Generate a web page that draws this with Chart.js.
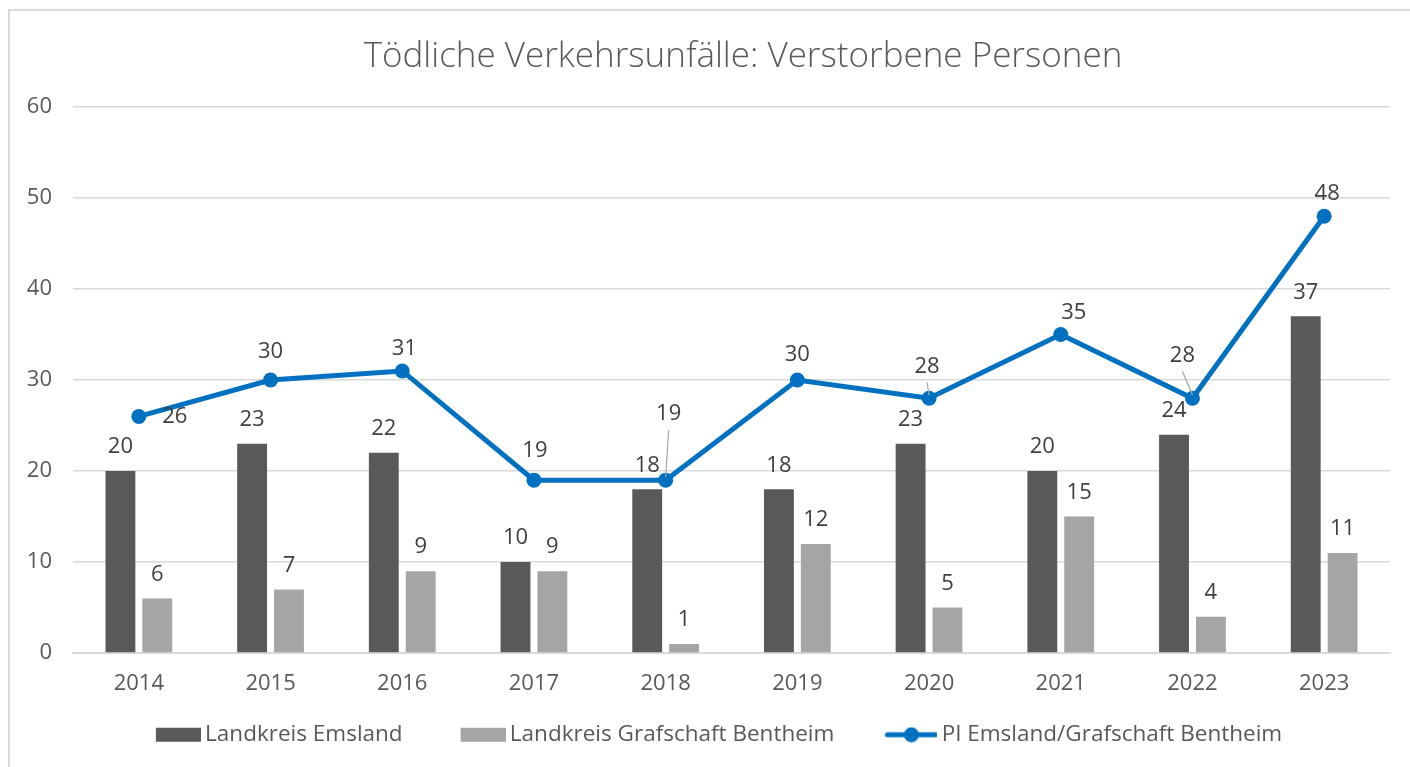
<!DOCTYPE html>
<html>
<head>
<meta charset="utf-8">
<script src="https://cdn.jsdelivr.net/npm/chart.js@4.4.1/dist/chart.umd.min.js"></script>
<style>
    html, body { margin: 0; padding: 0; background: #fff; overflow: hidden; }
    #frame {
        position: absolute; left: 8px; top: 9px; width: 1420px; height: 780px;
        border-top: 2px solid #d9d9d9; border-left: 2px solid #d9d9d9;
    }
    #wrap { position: absolute; left: 0; top: 0; width: 1410px; height: 767px; }
</style>
</head>
<body>
<div id="frame"></div>
<div id="wrap"><canvas id="chart" width="1410" height="767"></canvas></div>
<script>
const years = ['2014', '2015', '2016', '2017', '2018', '2019', '2020', '2021', '2022', '2023'];
const emsland = [20, 23, 22, 10, 18, 18, 23, 20, 24, 37];
const bentheim = [6, 7, 9, 9, 1, 12, 5, 15, 4, 11];
const piTotal = [26, 30, 31, 19, 19, 30, 28, 35, 28, 48];
const yTicks = [0, 10, 20, 30, 40, 50, 60];
const titleText = 'Tödliche Verkehrsunfälle: Verstorbene Personen';

const fontFamily = "'Open Sans', 'Noto Sans', sans-serif";
const textColor = '#595959';
const labelColor = '#404040';

// label placement for the line series: [dx, dy, leader line]
const lineLabelPos = [
    [36, 0, false], [0, -28, false], [2, -22, false], [1, -29, false], [3, -66, true],
    [0, -25, false], [-2, -32, true], [13, -22, false], [-10, -43, true], [3, -22, false]
];

// legend icons: blank space on the left acts as the gap between items
function legendIcon(kind, color) {
    const c = document.createElement('canvas');
    c.width = 100; c.height = 16;
    const g = c.getContext('2d');
    g.fillStyle = color;
    g.strokeStyle = color;
    if (kind === 'bar') {
        g.fillRect(100 - 45, 1, 45, 14);
    } else {
        g.lineWidth = 5;
        g.lineCap = 'round';
        g.beginPath(); g.moveTo(100 - 50, 8); g.lineTo(98, 8); g.stroke();
        g.beginPath(); g.arc(100 - 26, 8, 7.5, 0, Math.PI * 2); g.fill();
    }
    return c;
}

const valueLabels = {
    id: 'valueLabels',
    afterDatasetsDraw(chart) {
        const ctx = chart.ctx;
        ctx.save();
        ctx.font = `22px ${fontFamily}`;
        ctx.fillStyle = labelColor;
        ctx.textAlign = 'center';
        ctx.textBaseline = 'middle';
        chart.data.datasets.forEach((ds, di) => {
            const meta = chart.getDatasetMeta(di);
            meta.data.forEach((el, i) => {
                const v = ds.data[i];
                if (ds.type === 'line') {
                    const [dx, dy, leader] = lineLabelPos[i];
                    const lx = el.x + dx, ly = el.y + dy;
                    if (leader) {
                        ctx.save();
                        ctx.strokeStyle = '#a6a6a6';
                        ctx.lineWidth = 1.2;
                        ctx.beginPath();
                        ctx.moveTo(lx, ly + 16);
                        ctx.lineTo(el.x, el.y - 3);
                        ctx.stroke();
                        ctx.restore();
                    }
                    ctx.fillText(String(v), lx, ly);
                } else {
                    ctx.fillText(String(v), el.x, el.y - 24);
                }
            });
        });
        ctx.restore();
    },
    afterDraw(chart) {
        const ctx = chart.ctx;
        ctx.save();
        ctx.font = `300 35px ${fontFamily}`;
        ctx.fillStyle = textColor;
        ctx.textAlign = 'center';
        ctx.textBaseline = 'middle';
        ctx.fillText(titleText, 743, 57);
        ctx.restore();
    }
};

new Chart(document.getElementById('chart'), {
    data: {
        labels: years,
        datasets: [
            {
                type: 'line',
                label: 'PI Emsland/Grafschaft Bentheim',
                data: piTotal,
                borderColor: '#0070C0',
                backgroundColor: '#0070C0',
                borderWidth: 5,
                pointRadius: 7.5,
                pointHoverRadius: 7.5,
                pointBorderWidth: 0,
                tension: 0,
                order: 0,
            },
            {
                type: 'bar',
                label: 'Landkreis Emsland',
                data: emsland,
                backgroundColor: '#595959',
                categoryPercentage: 0.56,
                barPercentage: 0.81,
                order: 1,
            },
            {
                type: 'bar',
                label: 'Landkreis Grafschaft Bentheim',
                data: bentheim,
                backgroundColor: '#A5A5A5',
                categoryPercentage: 0.56,
                barPercentage: 0.81,
                order: 1,
            },
        ]
    },
    options: {
        responsive: false,
        animation: false,
        events: [],
        layout: { padding: { left: 0, right: 20, top: 107, bottom: 11 } },
        scales: {
            x: {
                grid: { display: false, drawTicks: false },
                border: { color: '#d9d9d9', width: 2 },
                ticks: { color: textColor, font: { size: 22, family: fontFamily }, padding: 17 },
            },
            y: {
                min: 0,
                max: 60,
                afterBuildTicks: scale => { scale.ticks = yTicks.map(v => ({ value: v })); },
                afterFit: scale => { scale.width = 73; },
                grid: { color: '#d9d9d9', lineWidth: 1.5, drawTicks: false },
                border: { display: false },
                ticks: { color: textColor, font: { size: 22, family: fontFamily }, padding: 21 },
            }
        },
        plugins: {
            title: { display: false },
            legend: {
                position: 'bottom',
                labels: {
                    color: textColor,
                    font: { size: 22.5, family: fontFamily },
                    usePointStyle: true,
                    pointStyleWidth: 86,
                    padding: 10,
                    generateLabels: chart => {
                        const order = [1, 2, 0];
                        return order.map(di => {
                            const ds = chart.data.datasets[di];
                            return {
                                text: ds.label,
                                fontColor: textColor,
                                pointStyle: legendIcon(ds.type, ds.backgroundColor),
                                datasetIndex: di,
                                lineWidth: 0,
                            };
                        });
                    }
                }
            },
            tooltip: { enabled: false }
        }
    },
    plugins: [valueLabels]
});
</script>
</body>
</html>
